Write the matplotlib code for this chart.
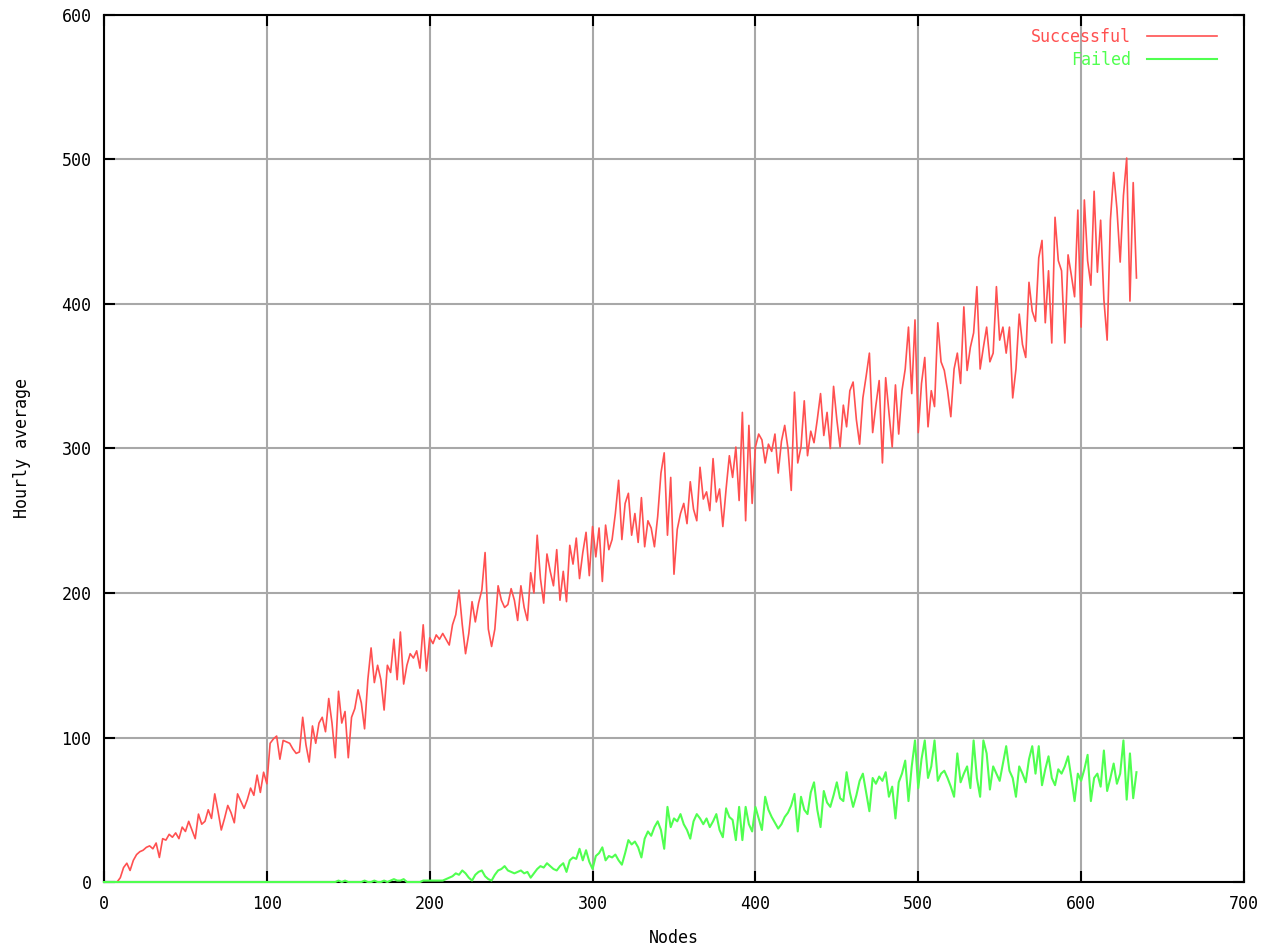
import numpy as np
import matplotlib.pyplot as plt

# Hourly averages, one value every 2 nodes (0, 2, 4, ...)
successful = [
    0, 0, 0, 0, 0, 3, 10, 13, 8, 15, 19, 21, 22, 24, 25, 23, 27, 17, 30, 29,
    33, 31, 34, 30, 38, 35, 42, 36, 30, 47, 40, 42, 50, 44, 61, 49, 36, 44, 53, 48,
    41, 61, 56, 51, 57, 65, 60, 74, 62, 76, 68, 96, 99, 101, 85, 98, 97, 96, 92, 89,
    90, 114, 95, 83, 108, 96, 110, 114, 104, 127, 110, 86, 132, 110, 118, 86, 114, 120, 133, 124,
    106, 140, 162, 138, 150, 140, 119, 150, 145, 168, 140, 173, 137, 150, 158, 155, 160, 148, 178, 146,
    169, 165, 171, 168, 172, 168, 164, 178, 185, 202, 178, 158, 172, 194, 180, 193, 202, 228, 175, 163,
    175, 205, 195, 190, 192, 203, 195, 181, 205, 190, 181, 214, 200, 240, 210, 193, 227, 215, 205, 230,
    195, 215, 194, 233, 220, 238, 210, 228, 242, 212, 246, 225, 245, 208, 247, 230, 237, 255, 278, 237,
    262, 269, 240, 255, 235, 266, 232, 250, 245, 232, 253, 283, 297, 240, 280, 213, 244, 255, 262, 248,
    277, 258, 250, 287, 265, 270, 257, 293, 263, 272, 246, 272, 295, 280, 301, 264, 325, 250, 316, 262,
    301, 310, 306, 290, 303, 298, 310, 283, 305, 316, 300, 271, 339, 290, 301, 333, 295, 312, 304, 320,
    338, 309, 325, 300, 343, 320, 301, 330, 315, 340, 346, 320, 303, 335, 350, 366, 311, 330, 347, 290,
    349, 325, 301, 344, 310, 340, 355, 384, 338, 389, 311, 345, 363, 315, 340, 329, 387, 360, 354, 340,
    322, 355, 366, 345, 398, 354, 370, 380, 412, 355, 370, 384, 360, 366, 412, 375, 384, 366, 384, 335,
    355, 393, 372, 363, 415, 395, 388, 432, 444, 387, 423, 373, 460, 430, 423, 373, 434, 420, 405, 465,
    384, 472, 430, 413, 478, 422, 458, 403, 375, 458, 491, 466, 429, 475, 501, 402, 484, 418,
]

failed = [
    0, 0, 0, 0, 0, 0, 0, 0, 0, 0, 0, 0, 0, 0, 0, 0, 0, 0, 0, 0,
    0, 0, 0, 0, 0, 0, 0, 0, 0, 0, 0, 0, 0, 0, 0, 0, 0, 0, 0, 0,
    0, 0, 0, 0, 0, 0, 0, 0, 0, 0, 0, 0, 0, 0, 0, 0, 0, 0, 0, 0,
    0, 0, 0, 0, 0, 0, 0, 0, 0, 0, 0, 0, 1, 0, 1, 0, 0, 0, 0, 0,
    1, 0, 0, 1, 0, 0, 1, 0, 1, 2, 1, 1, 2, 0, 0, 0, 0, 0, 1, 1,
    1, 1, 1, 1, 1, 2, 3, 4, 6, 5, 8, 6, 3, 1, 5, 7, 8, 4, 2, 1,
    5, 8, 9, 11, 8, 7, 6, 7, 8, 6, 7, 3, 6, 9, 11, 10, 13, 11, 9, 8,
    11, 13, 7, 15, 17, 16, 23, 15, 22, 14, 9, 18, 20, 24, 15, 18, 17, 19, 15, 12,
    20, 29, 26, 28, 24, 17, 30, 35, 32, 38, 42, 36, 23, 52, 38, 44, 42, 47, 40, 36,
    30, 42, 47, 44, 40, 44, 38, 42, 47, 36, 31, 51, 45, 43, 29, 52, 29, 52, 40, 35,
    52, 44, 36, 59, 50, 45, 41, 37, 40, 45, 48, 53, 61, 35, 59, 50, 47, 62, 69, 50,
    38, 63, 55, 52, 60, 69, 58, 56, 76, 62, 52, 60, 70, 75, 62, 49, 72, 68, 73, 70,
    76, 59, 66, 44, 69, 75, 84, 56, 80, 98, 65, 85, 98, 72, 80, 98, 70, 75, 77, 72,
    66, 59, 89, 69, 75, 80, 65, 98, 72, 59, 98, 89, 64, 80, 75, 70, 82, 94, 77, 72,
    59, 80, 75, 69, 85, 94, 75, 94, 67, 78, 87, 72, 67, 78, 75, 80, 87, 72, 56, 75,
    70, 78, 88, 56, 72, 75, 66, 91, 63, 72, 82, 68, 75, 98, 57, 89, 58, 76,
]

x_ticks = [0, 100, 200, 300, 400, 500, 600, 700]
y_ticks = [0, 100, 200, 300, 400, 500, 600]

nodes_s = np.arange(len(successful)) * 2
nodes_f = np.arange(len(failed)) * 2

red = '#ff5050'
green = '#50ff50'
font = 'DejaVu Sans Mono'

fig = plt.figure(figsize=(12.67, 9.48), dpi=100)
ax = fig.add_axes([0.0821, 0.0696, 0.8997, 0.9146])

ax.plot(nodes_s, successful, color=red, lw=1.2, label='Successful', zorder=3)
ax.plot(nodes_f, failed, color=green, lw=1.5, label='Failed', zorder=4, clip_on=False)

ax.set_xlim(0, 700)
ax.set_ylim(0, 600)
ax.set_xticks(x_ticks)
ax.set_yticks(y_ticks)
ax.grid(True, color='#a8a8a8', lw=1.5)
ax.set_axisbelow(True)

for s in ax.spines.values():
    s.set_linewidth(1.5)
    s.set_color('black')
ax.tick_params(direction='in', length=8, width=1.5, top=True, right=True,
               labelsize=12, pad=9)
for lbl in ax.get_xticklabels() + ax.get_yticklabels():
    lbl.set_family(font)

ax.set_xlabel('Nodes', family=font, fontsize=12, labelpad=12)
ax.set_ylabel('Hourly average', family=font, fontsize=12, labelpad=22)

ax.legend(loc='upper right', bbox_to_anchor=(0.9825, 0.993), frameon=False,
          markerfirst=False, handlelength=4.2, labelcolor='linecolor',
          prop={'family': font, 'size': 12}, borderaxespad=0,
          labelspacing=0.3, handletextpad=1.0)

fig.savefig('out.png', dpi=100)
